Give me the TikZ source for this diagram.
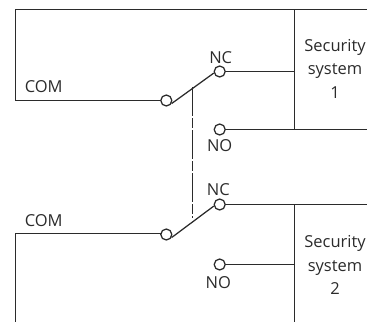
\documentclass[tikz,border=0pt]{standalone}
\usepackage{fontspec}
\setmainfont{Open Sans}
\definecolor{ink}{HTML}{2B2B2B}
\tikzset{
  wire/.style={draw=ink,line width=1.25pt},
  contact/.style={circle,draw=ink,fill=white,line width=1.25pt,minimum size=11pt,inner sep=0pt},
  lbl/.style={text=ink,font=\fontsize{16.5}{23.5}\selectfont,inner sep=0pt,align=center},
}
\begin{document}
\begin{tikzpicture}[x=1pt,y=-1pt]
\useasboundingbox (0,0) rectangle (367,322);
% first switch
\node[contact] (com1) at (166.3,100.5) {};
\node[contact] (nc1) at (219.7,71.5) {};
\node[contact] (no1) at (219.7,129.5) {};
\coordinate (tl) at (15.5,9.8);
\coordinate (tr) at (367,9.8);
\coordinate (bl) at (15.5,100.5);
\coordinate (t1) at (294.5,9.8);
\coordinate (m1) at (294.5,71.5);
\coordinate (b1) at (294.5,129.5);
\coordinate (r1) at (367,129.5);
\draw[wire,line join=miter] (com1.west) -- (bl) -- (tl) -- (tr);
\draw[wire] (t1) -- (b1);
\draw[wire] (nc1.east) -- (m1);
\draw[wire] (no1.east) -- (r1);
\draw[wire] (com1.-30) -- (nc1.195);
% second switch
\node[contact] (com2) at (166.3,234.5) {};
\node[contact] (nc2) at (219.7,204.5) {};
\node[contact] (no2) at (219.7,264.5) {};
\coordinate (bl2) at (15.5,233.5);
\coordinate (j2) at (161,233.5);
\coordinate (bb2) at (15.5,322);
\coordinate (r2) at (367,204.5);
\coordinate (t2) at (294.5,204.5);
\coordinate (m2) at (294.5,264.5);
\coordinate (b2) at (294.5,322);
\draw[wire,line join=miter] (j2) -- (bl2) -- (bb2);
\draw[wire] (nc2.east) -- (r2);
\draw[wire] (t2) -- (b2);
\draw[wire] (no2.east) -- (m2);
\draw[wire] (com2.-30) -- (nc2.195);
% mechanical link
\coordinate (la) at (192.7,87);
\coordinate (lb) at (192.7,218);
\draw[wire,dash pattern=on 29pt off 2pt on 10pt off 2pt] (la) -- (lb);
% labels
\node[lbl] (lcom1) at (43.7,86.7) {COM};
\node[lbl] (lcom2) at (43.7,221) {COM};
\node[lbl] (lnc1) at (220.7,57.3) {NC};
\node[lbl] (lno1) at (219.7,146) {NO};
\node[lbl] (lnc2) at (218.3,190) {NC};
\node[lbl] (lno2) at (218.3,282.7) {NO};
\node[lbl] (s1) at (335,68.6) {Security\\system\\1};
\node[lbl] (s2) at (335,265) {Security\\system\\2};
\end{tikzpicture}
\end{document}
